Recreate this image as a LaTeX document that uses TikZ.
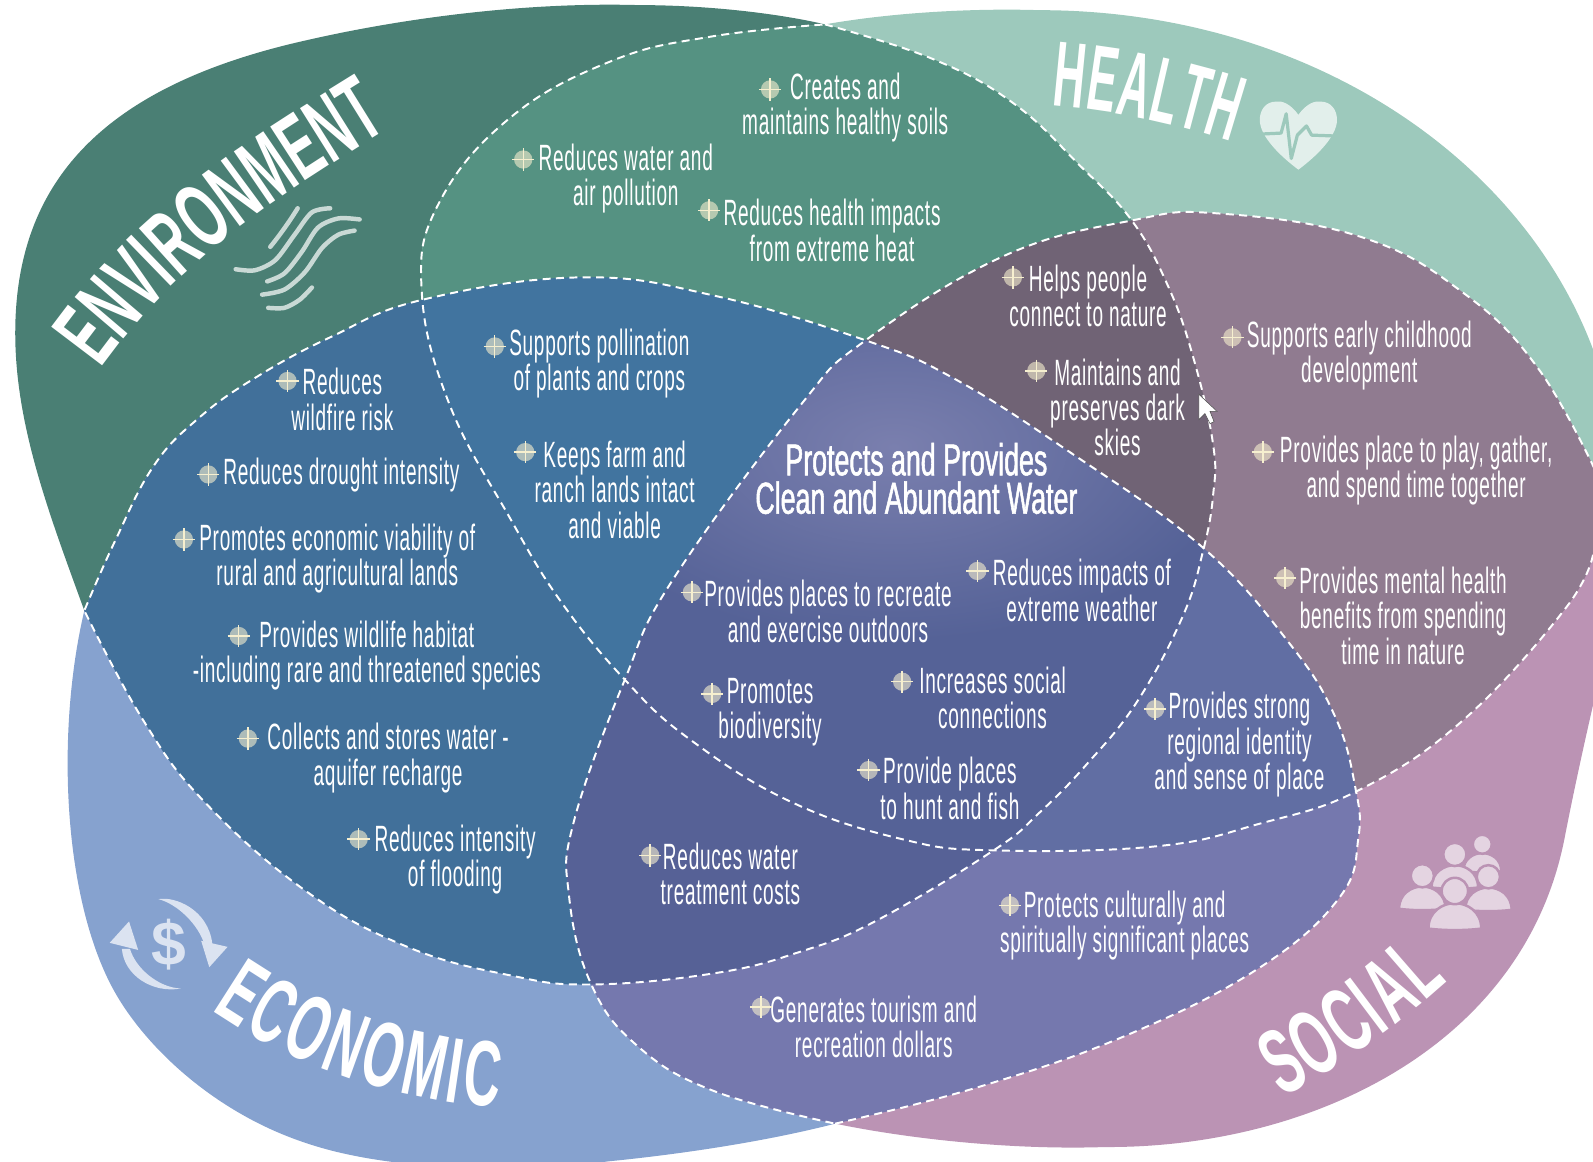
\documentclass[tikz,border=0pt]{standalone}
\usepackage{fontspec}
\usetikzlibrary{decorations.text}

\newfontfamily\bodyfamily[FakeStretch=0.52,LetterSpace=2]{Liberation Sans}
\newfontfamily\centerfamily[FakeStretch=0.6,FakeBold=1.2]{Liberation Sans}
\newfontfamily\titlefamily[FakeStretch=0.55]{Liberation Sans Bold}
\newfontfamily\narrowfamily[FakeStretch=0.47]{Liberation Sans Bold}

\definecolor{envgreen}{HTML}{4A7F74}
\definecolor{healthteal}{HTML}{9DC9BC}
\definecolor{econblue}{HTML}{86A2CF}
\definecolor{socialpink}{HTML}{BB93B4}
\definecolor{envhealth}{HTML}{559282}
\definecolor{envecon}{HTML}{41709A}
\definecolor{healthsocial}{HTML}{907B90}
\definecolor{econsocial}{HTML}{7578AE}
\definecolor{pollinate}{HTML}{41749F}
\definecolor{nature}{HTML}{706375}
\definecolor{identity}{HTML}{616EA3}
\definecolor{treatment}{HTML}{566196}
\definecolor{allfour}{HTML}{556297}
\definecolor{glow}{HTML}{7A7FAE}
\definecolor{cream}{HTML}{F6EFCF}

\tikzset{
  curvy/.style={smooth, tension=0.7},
  dashline/.style={white, line width=1.1pt, dash pattern=on 4.5pt off 3pt},
  benefit/.style={text=white, align=center, inner sep=0pt, font=\bodyfamily\fontsize{20.5}{19.85}\selectfont},
  benefitmark/.pic={
    \fill[cream, opacity=0.6] (0,0) circle (9);
    \draw[cream, line width=0.8pt] (-11,0) -- (11,0) (0,-11) -- (0,11);
  },
  person/.pic={
    \fill[socialpink!40!white, draw=socialpink, line width=1.4pt] (-26,37) .. controls (-26,20) and (-12,12) .. (0,12) .. controls (12,12) and (26,20) .. (26,37) .. controls (10,39) and (-10,39) .. (-26,37) -- cycle;
    \fill[socialpink!40!white, draw=socialpink, line width=1.4pt] (0,0) circle (13);
  }
}

% Blob outlines
\def\envouter{(83,601) .. controls (50,510) and (15,420) .. (15,328) .. controls (15,180) and (100,85) .. (300,40) .. controls (400,17) and (520,2) .. (628,5) .. controls (700,5) and (770,14) .. (812,24)}
\def\envdash{-- plot[curvy] coordinates {(812,24) (918,58) (998,102) (1064,164) (1114,217) (1149,280) (1174,350) (1194,437) (1194,488) (1184,543) (1164,607) (1119,691) (1069,753) (1023,800) (978,837) (863,906) (787,937) (703,958) (582,969) (502,960) (401,932) (301,877) (201,789) (141,709) (83,601)}}
\def\healthouter{(812,24) .. controls (880,12) and (960,8) .. (1023,10) .. controls (1290,10) and (1510,160) .. (1575,364) .. controls (1590,400) and (1600,440) .. (1610,480)}
\def\healthdash{-- plot[curvy] coordinates {(1568,546) (1540,600) (1440,709) (1337,778) (1239,811) (1138,833) (978,837) (888,826) (778,789) (678,727) (615,669) (552,592) (502,510) (442,397) (415,285) (432,200) (502,116) (602,60) (700,36) (812,24)}}
\def\econouter{(83,601) .. controls (55,720) and (62,880) .. (110,971) .. controls (140,1028) and (210,1095) .. (301,1125) .. controls (380,1152) and (500,1155) .. (600,1143) .. controls (680,1135) and (760,1122) .. (822,1106)}
\def\econdash{-- plot[curvy] coordinates {(822,1106) (963,1070) (1109,1019) (1239,953) (1318,884) (1337,825) (1334,775) (1314,705) (1269,633) (1184,539) (1053,445) (938,372) (852,335) (703,291) (572,273) (416,295) (325,332) (251,372) (195,412) (151,459) (113,533) (83,601)}}
\def\socialouter{(822,1106) .. controls (900,1122) and (1000,1132) .. (1088,1129) .. controls (1290,1130) and (1500,1030) .. (1540,825) .. controls (1560,722) and (1590,600) .. (1610,520)}
\def\socialdash{-- plot[curvy] coordinates {(1575,473) (1515,364) (1440,288) (1339,233) (1198,210) (1114,217) (988,252) (852,335) (787,400) (662,571) (615,669) (565,808) (560,881) (582,969) (628,1030) (703,1074) (822,1106)}}

\def\envpath{\envouter \envdash -- cycle}
\def\healthpath{\healthouter \healthdash -- cycle}
\def\econpath{\econouter \econdash -- cycle}
\def\socialpath{\socialouter \socialdash -- cycle}

\begin{document}
\begin{tikzpicture}[x=0.02cm, y=-0.02cm]

    \useasboundingbox (0,0) rectangle (1568,1143.7);
    \clip (0,0) rectangle (1568,1143.7);

    % Blobs
    \fill[envgreen] \envpath;
    \fill[healthteal] \healthpath;
    \fill[econblue] \econpath;
    \fill[socialpink] \socialpath;

    % Overlaps of two
    \begin{scope}
      \clip \envpath;
      \fill[envhealth] \healthpath;
      \fill[envecon] \econpath;
    \end{scope}
    \begin{scope}
      \clip \socialpath;
      \fill[healthsocial] \healthpath;
      \fill[econsocial] \econpath;
    \end{scope}

    % Overlaps of three
    \begin{scope}
      \clip \envpath;
      \clip \healthpath;
      \fill[pollinate] \econpath;
      \fill[nature] \socialpath;
    \end{scope}
    \begin{scope}
      \clip \socialpath;
      \clip \econpath;
      \fill[identity] \healthpath;
      \fill[treatment] \envpath;
    \end{scope}

    % Overlap of four
    \begin{scope}
      \clip \envpath;
      \clip \healthpath;
      \clip \econpath;
      \clip \socialpath;
      \fill[allfour] (0,0) rectangle (1568,1144);
      \shade[inner color=glow, outer color=allfour] (880,440) ellipse [x radius=340, y radius=190];
    \end{scope}

    % Dashed borders
    \draw[dashline] (812,24) \envdash;
    \draw[dashline] (1568,546) \healthdash;
    \draw[dashline] (822,1106) \econdash;
    \draw[dashline] (1575,473) \socialdash;

    % Titles
    \def\titlesize{\titlefamily\fontsize{52}{52}\selectfont}
    \def\narrowsize{\narrowfamily\fontsize{52}{52}\selectfont}
    \path[decorate, decoration={text along path, text color=white, text align={fit to path}, text={|\titlesize|ENVIRONMENT}}]
      (99,363) .. controls (180,250) and (280,190) .. (383,126);
    \path[decorate, decoration={text along path, text color=white, text align={fit to path}, text={|\narrowsize|HEALTH}}]
      (1035,104) .. controls (1090,108) and (1150,120) .. (1212,140);
    \path[decorate, decoration={text along path, text color=white, text align={fit to path}, text={|\titlesize|ECONOMIC}}]
      (208,994) .. controls (290,1050) and (385,1082) .. (490,1090);
    \path[decorate, decoration={text along path, text color=white, text align={fit to path}, text={|\titlesize|SOCIAL}}]
      (1262,1080) .. controls (1320,1050) and (1375,1010) .. (1425,965);

    % Wind icon
    \begin{scope}[draw=envgreen!30!white, line width=2.5pt, line cap=round]
      \draw (293,205) .. controls (285,218) and (275,232) .. (266,243);
      \draw plot[smooth] coordinates {(325,205) (307,209) (290,231) (271,256) (251,266) (232,265)};
      \draw plot[smooth] coordinates {(354,216) (333,215) (313,224) (297,248) (280,269) (263,277)};
      \draw plot[smooth] coordinates {(349,227) (333,231) (317,244) (300,268) (280,285) (258,290)};
      \draw plot[smooth] coordinates {(307,283) (295,295) (280,303) (264,303)};
    \end{scope}

    % Heart icon
    \fill[healthteal!30!white] (1278,113) .. controls (1270,102) and (1262,99) .. (1256,100) .. controls (1246,100) and (1240,108) .. (1240,118) .. controls (1240,135) and (1262,155) .. (1278,167) .. controls (1294,155) and (1316,135) .. (1316,118) .. controls (1316,108) and (1310,100) .. (1300,100) .. controls (1294,99) and (1286,102) .. (1278,113) -- cycle;
    \draw[healthteal, line width=1.8pt, line join=round] (1240,132) -- (1261,131) -- (1266,112) -- (1271,156) -- (1277,133) -- (1286,124) -- (1291,133) -- (1318,134);

    % Money icon
    \begin{scope}[fill=econblue!30!white]
      \fill (156,885) .. controls (172,882) and (205,895) .. (209,929) -- (201,929) .. controls (195,910) and (175,890) .. (156,885) -- cycle;
      \fill (198,926) -- (224,932) -- (206,952) -- cycle;
      \fill (178,973) .. controls (150,978) and (122,960) .. (120,934) -- (128,934) .. controls (133,952) and (155,972) .. (178,973) -- cycle;
      \fill (108,928) -- (127,907) -- (136,935) -- cycle;
      \node[inner sep=0pt, text=econblue!30!white, font=\fontspec{Liberation Sans Bold}\fontsize{35}{35}\selectfont] (dollar) at (166,930) {\$};
    \end{scope}

    % People icon
    \pic[scale=0.72] at (1459,831) {person};
    \pic[scale=0.88] at (1432,841) {person};
    \pic[scale=0.88] at (1400,862) {person};
    \pic[scale=0.88] at (1465,863) {person};
    \pic at (1432,877) {person};

    % Cursor
    \fill[white, draw=black!70, line width=0.3pt] (1180,388) -- (1180,413) -- (1186,407) -- (1191,417) -- (1195,415) -- (1191,405) -- (1198,405) -- cycle;

    % Nodes
    \node[benefit] (soils) at (832,106) {Creates and\\maintains healthy soils};
    \node[benefit] (pollution) at (616,176) {Reduces water and\\air pollution};
    \node[benefit] (heat) at (819,227) {Reduces health impacts\\from extreme heat};
    \node[benefit] (connect) at (1071,291) {Helps people\\connect to nature};
    \node[benefit] (skies) at (1100,401) {Maintains and\\preserves dark\\skies};
    \node[benefit] (childhood) at (1338,350) {Supports early childhood\\development};
    \node[benefit] (play) at (1394,463) {Provides place to play, gather,\\and spend time together};
    \node[benefit] (mental) at (1381,606) {Provides mental health\\benefits from spending\\time in nature};
    \node[benefit] (crops) at (590,358) {Supports pollination\\of plants and crops};
    \node[benefit] (ranch) at (605,482) {Keeps farm and\\ranch lands intact\\and viable};
    \node[benefit] (wildfire) at (337,393) {Reduces\\wildfire risk};
    \node[benefit] (drought) at (336,468) {Reduces drought intensity};
    \node[benefit] (rural) at (332,550) {Promotes economic viability of\\rural and agricultural lands};
    \node[benefit] (habitat) at (361,645) {Provides wildlife habitat\\-including rare and threatened species};
    \node[benefit] (aquifer) at (382,746) {Collects and stores water -\\aquifer recharge};
    \node[benefit] (flooding) at (448,846) {Reduces intensity\\of flooding};
    \node[benefit] (recreate) at (815,602) {Provides places to recreate\\and exercise outdoors};
    \node[benefit] (weather) at (1065,581) {Reduces impacts of\\extreme weather};
    \node[benefit] (biodiversity) at (758,701) {Promotes\\biodiversity};
    \node[benefit] (social) at (977,687) {Increases social\\connections};
    \node[benefit] (hunt) at (935,776) {Provide places\\to hunt and fish};
    \node[benefit] (regional) at (1220,733) {Provides strong\\regional identity\\and sense of place};
    \node[benefit] (costs) at (719,860) {Reduces water\\treatment costs};
    \node[benefit] (cultural) at (1107,911) {Protects culturally and\\spiritually significant places};
    \node[benefit] (tourism) at (860,1011) {Generates tourism and\\recreation dollars};
    \node[text=white, align=center, inner sep=0pt, font=\centerfamily\fontsize{25}{21.5}\selectfont] (water) at (902,471) {Protects and Provides\\Clean and Abundant Water};

    % Marks
    \foreach \x/\y in {758/88, 515/157, 698/207, 997/273, 1020/365, 1213/332, 1243/445, 1265/569, 487/341, 517/445, 283/375, 205/467, 181/531, 235/626, 244/727, 353/826, 681/583, 962/562, 701/683, 888/671, 855/758, 1137/698, 640/842, 994/891, 749/991}
      \pic at (\x,\y) {benefitmark};

\end{tikzpicture}
\end{document}
